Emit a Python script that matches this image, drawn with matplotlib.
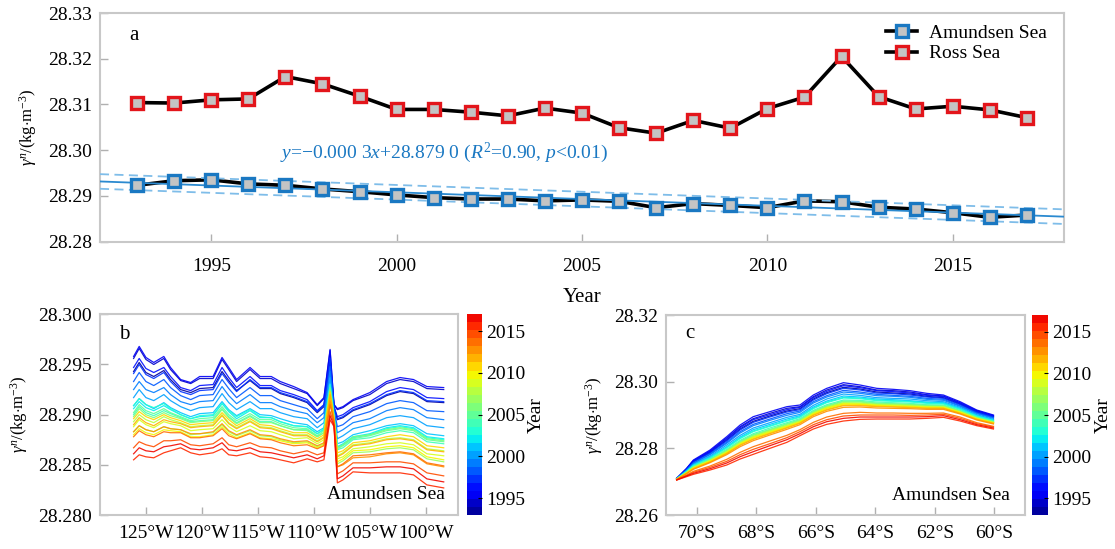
import numpy as np
import matplotlib
matplotlib.use("Agg")
import matplotlib.pyplot as plt
from matplotlib.colors import Normalize, ListedColormap
from matplotlib.cm import ScalarMappable
from matplotlib.lines import Line2D
from matplotlib.ticker import FuncFormatter

plt.rcParams['font.family'] = ['Liberation Serif', 'DejaVu Serif']
plt.rcParams['mathtext.fontset'] = 'custom'
plt.rcParams['mathtext.rm'] = 'Liberation Serif'
plt.rcParams['mathtext.it'] = 'Liberation Serif:italic'

# ---- panel a: yearly mean neutral density
YEARS = [1993, 1994, 1995, 1996, 1997, 1998, 1999, 2000, 2001, 2002, 2003, 2004, 2005,
         2006, 2007, 2008, 2009, 2010, 2011, 2012, 2013, 2014, 2015, 2016, 2017]
AMUNDSEN = [28.2923, 28.2933, 28.2935, 28.2926, 28.2923, 28.2915, 28.2909, 28.2902, 28.2896,
            28.2893, 28.2893, 28.2889, 28.2891, 28.2888, 28.2874, 28.2883, 28.2879, 28.2874,
            28.2889, 28.2887, 28.2875, 28.2871, 28.2863, 28.2853, 28.2858]
ROSS = [28.3104, 28.3103, 28.3110, 28.3112, 28.3161, 28.3145, 28.3118, 28.3089, 28.3089,
        28.3083, 28.3075, 28.3092, 28.3081, 28.3049, 28.3037, 28.3065, 28.3048, 28.3091,
        28.3116, 28.3205, 28.3117, 28.3090, 28.3096, 28.3088, 28.3071]
CI_HALF = 0.0016
EQUATION = r'$y$=−0.000 3$x$+28.879 0 ($R^2$=0.90, $p$<0.01)'

# ---- panel b: section along longitude, gamma_n - 28.28 in 1e-4 kg m^-3
LON_B = [-126.1, -125.6, -125.0, -124.3, -123.4, -122.8, -121.9, -121.0, -120.2, -119.0,
         -118.2, -117.6, -116.9, -115.7, -114.8, -113.8, -113.0, -111.8, -110.6, -109.7,
         -109.1, -108.55, -108.2, -107.9, -107.4, -106.5, -105.0, -103.5, -102.3, -101.1,
         -99.9, -98.4]
ROWS_B = [
    [143, 152, 142, 138, 144, 135, 125, 122, 126, 127, 143, 134, 124, 134, 126, 126, 121, 117, 112, 102, 108, 155, 107, 95, 97, 104, 110, 119, 123, 121, 113, 112],
    [156, 166, 155, 150, 156, 145, 134, 131, 136, 136, 155, 145, 133, 145, 136, 136, 131, 126, 121, 109, 116, 164, 110, 105, 107, 114, 120, 131, 135, 133, 126, 125],
    [158, 168, 157, 152, 158, 147, 135, 132, 138, 138, 157, 147, 135, 147, 138, 138, 133, 128, 122, 110, 117, 165, 110, 106, 108, 115, 122, 133, 137, 135, 128, 127],
    [147, 156, 146, 142, 147, 138, 127, 124, 129, 130, 147, 137, 127, 138, 129, 129, 124, 120, 115, 104, 110, 157, 108, 98, 100, 107, 113, 123, 127, 125, 117, 116],
    [141, 150, 140, 136, 142, 133, 123, 120, 124, 125, 141, 132, 123, 135, 127, 127, 122, 118, 113, 103, 109, 156, 108, 96, 98, 105, 111, 120, 124, 122, 114, 113],
    [133, 142, 133, 129, 135, 127, 119, 115, 119, 120, 135, 126, 117, 127, 119, 119, 114, 110, 106, 96, 102, 148, 105, 88, 90, 98, 103, 111, 114, 112, 104, 103],
    [125, 133, 125, 122, 127, 120, 113, 110, 113, 114, 128, 119, 111, 120, 112, 112, 108, 104, 101, 92, 97, 143, 103, 82, 85, 92, 96, 104, 107, 105, 97, 95],
    [117, 125, 117, 114, 120, 114, 108, 104, 107, 108, 121, 112, 105, 113, 106, 106, 102, 98, 96, 87, 92, 137, 101, 76, 79, 86, 90, 97, 99, 97, 89, 87],
    [109, 116, 110, 106, 112, 107, 102, 98, 101, 102, 113, 105, 99, 106, 100, 99, 96, 92, 90, 83, 87, 131, 99, 71, 73, 80, 84, 89, 91, 89, 81, 79],
    [106, 113, 107, 104, 109, 105, 100, 96, 98, 99, 111, 103, 96, 104, 97, 97, 93, 89, 88, 81, 85, 129, 99, 68, 71, 78, 81, 87, 89, 87, 78, 76],
    [109, 116, 110, 107, 111, 106, 100, 96, 99, 100, 111, 104, 98, 105, 98, 97, 93, 89, 88, 81, 86, 130, 99, 68, 70, 77, 80, 86, 88, 86, 77, 75],
    [100, 108, 102, 99, 104, 101, 97, 93, 94, 95, 106, 98, 92, 99, 93, 93, 89, 85, 85, 78, 82, 126, 98, 65, 67, 75, 77, 82, 84, 82, 73, 71],
    [102, 110, 104, 101, 106, 102, 98, 94, 96, 97, 108, 100, 94, 101, 95, 95, 91, 87, 86, 79, 84, 127, 98, 66, 69, 76, 79, 84, 86, 84, 75, 73],
    [98, 106, 100, 97, 102, 99, 96, 92, 93, 94, 105, 97, 91, 98, 92, 92, 89, 85, 84, 78, 82, 125, 98, 67, 70, 78, 80, 85, 87, 85, 76, 74],
    [83, 89, 85, 83, 88, 86, 85, 80, 81, 82, 90, 83, 79, 84, 79, 78, 75, 72, 73, 68, 71, 113, 94, 51, 54, 62, 63, 66, 67, 65, 56, 53],
    [93, 100, 95, 92, 98, 95, 92, 88, 89, 90, 100, 92, 87, 94, 88, 87, 84, 80, 80, 74, 78, 121, 96, 59, 62, 70, 72, 76, 77, 75, 66, 64],
    [88, 95, 90, 87, 93, 91, 89, 84, 85, 86, 95, 88, 83, 89, 84, 83, 80, 76, 77, 71, 75, 117, 95, 56, 58, 66, 68, 71, 72, 70, 61, 59],
    [80, 86, 82, 80, 85, 84, 83, 78, 78, 80, 88, 81, 77, 82, 77, 76, 74, 71, 72, 67, 70, 112, 94, 53, 56, 64, 65, 68, 69, 67, 58, 55],
    [96, 103, 98, 95, 100, 97, 94, 90, 91, 92, 102, 95, 89, 96, 90, 89, 86, 82, 82, 76, 80, 123, 97, 62, 64, 72, 74, 78, 80, 78, 69, 67],
    [90, 97, 92, 89, 95, 93, 91, 87, 88, 89, 99, 91, 86, 93, 87, 86, 83, 79, 79, 73, 77, 120, 96, 58, 61, 69, 71, 75, 76, 74, 65, 63],
    [83, 89, 85, 83, 88, 86, 85, 81, 81, 83, 91, 84, 80, 85, 80, 79, 76, 73, 74, 69, 72, 114, 94, 48, 50, 57, 58, 61, 62, 60, 51, 48],
    [78, 84, 80, 78, 83, 82, 82, 77, 77, 79, 86, 79, 76, 81, 76, 75, 72, 69, 70, 66, 69, 110, 93, 48, 51, 59, 60, 62, 63, 61, 52, 49],
    [67, 73, 70, 68, 74, 74, 75, 70, 69, 71, 77, 70, 68, 72, 68, 67, 64, 61, 64, 60, 62, 103, 91, 41, 44, 52, 52, 53, 53, 51, 42, 39],
    [55, 60, 58, 57, 62, 64, 67, 62, 60, 62, 66, 60, 59, 62, 58, 57, 55, 52, 56, 53, 55, 95, 88, 32, 35, 43, 42, 42, 42, 40, 30, 27],
    [61, 67, 64, 63, 68, 69, 71, 66, 65, 67, 72, 65, 64, 67, 63, 62, 60, 57, 60, 56, 59, 99, 89, 36, 39, 47, 47, 48, 48, 46, 36, 33],
]

# ---- panel c: section along latitude, gamma_n - 28.26 in 1e-4 kg m^-3
LAT_C = [-70.67, -70.34, -70.11, -69.55, -68.99, -68.54, -68.1, -67.54, -66.97, -66.53, -66.08,
         -65.63, -65.07, -64.51, -63.95, -63.39, -62.83, -62.27, -61.71, -61.15, -60.59, -60.03]
ROWS_C = [
    [109, 137, 160, 188, 225, 258, 281, 297, 312, 319, 348, 367, 383, 378, 369, 366, 363, 356, 352, 333, 309, 295],
    [110, 139, 163, 192, 231, 265, 289, 305, 320, 325, 355, 375, 391, 385, 375, 373, 369, 361, 357, 337, 313, 298],
    [110, 140, 165, 195, 235, 270, 295, 310, 325, 330, 360, 380, 397, 390, 380, 377, 373, 365, 360, 340, 315, 300],
    [110, 138, 162, 190, 228, 262, 286, 301, 316, 323, 352, 371, 388, 382, 373, 370, 366, 359, 355, 335, 311, 297],
    [109, 136, 159, 186, 222, 255, 278, 294, 309, 316, 345, 364, 380, 375, 366, 364, 360, 354, 350, 331, 308, 294],
    [109, 135, 156, 183, 218, 250, 272, 288, 304, 312, 340, 358, 374, 369, 362, 359, 356, 350, 347, 328, 306, 292],
    [109, 134, 155, 181, 215, 246, 268, 284, 299, 308, 336, 354, 369, 365, 358, 356, 353, 347, 344, 326, 304, 290],
    [109, 133, 152, 177, 210, 239, 261, 277, 293, 302, 329, 348, 363, 359, 352, 350, 348, 343, 340, 323, 301, 287],
    [108, 131, 150, 174, 205, 234, 256, 272, 288, 298, 324, 342, 357, 354, 348, 346, 343, 339, 337, 320, 299, 285],
    [108, 131, 149, 172, 203, 231, 252, 268, 284, 295, 321, 339, 353, 351, 345, 343, 341, 337, 335, 318, 297, 284],
    [108, 130, 148, 171, 201, 229, 250, 266, 282, 293, 319, 337, 351, 349, 343, 341, 339, 335, 333, 317, 296, 283],
    [108, 129, 146, 168, 197, 224, 244, 261, 277, 289, 314, 331, 345, 344, 339, 337, 335, 331, 330, 314, 294, 281],
    [108, 128, 144, 166, 194, 221, 241, 257, 274, 286, 311, 328, 342, 341, 336, 334, 332, 329, 328, 312, 292, 280],
    [108, 128, 144, 165, 193, 219, 239, 255, 272, 284, 309, 326, 340, 339, 334, 333, 331, 328, 327, 311, 292, 279],
    [107, 127, 143, 164, 191, 217, 236, 253, 269, 282, 307, 324, 337, 336, 332, 331, 329, 326, 325, 310, 291, 278],
    [107, 127, 142, 163, 190, 216, 235, 252, 268, 281, 306, 323, 336, 335, 331, 330, 328, 325, 325, 309, 290, 278],
    [107, 126, 141, 162, 188, 214, 233, 250, 266, 279, 304, 321, 334, 333, 329, 328, 326, 324, 323, 308, 289, 277],
    [107, 126, 141, 161, 187, 213, 232, 248, 265, 279, 303, 320, 333, 332, 329, 327, 325, 323, 322, 308, 289, 276],
    [107, 125, 140, 160, 186, 211, 229, 246, 263, 277, 301, 317, 330, 330, 327, 325, 324, 321, 321, 306, 288, 276],
    [107, 125, 139, 159, 184, 209, 227, 244, 261, 275, 299, 315, 328, 328, 325, 324, 322, 320, 320, 305, 287, 275],
    [107, 124, 137, 157, 181, 205, 223, 240, 257, 271, 295, 311, 323, 324, 321, 320, 319, 317, 317, 303, 285, 273],
    [106, 120, 131, 147, 167, 188, 205, 222, 239, 256, 278, 294, 305, 308, 306, 306, 305, 305, 306, 294, 277, 266],
    [106, 118, 128, 143, 161, 181, 197, 214, 232, 250, 271, 286, 297, 300, 300, 300, 299, 300, 302, 290, 274, 264],
    [105, 115, 122, 135, 150, 168, 182, 200, 218, 238, 258, 272, 282, 287, 288, 288, 288, 290, 293, 282, 268, 258],
    [105, 117, 125, 139, 156, 175, 190, 208, 226, 244, 265, 280, 290, 294, 294, 294, 294, 295, 298, 286, 271, 261],
]

BLUE = '#1a78c2'
RED = '#e3151b'
FACE = '#c4c4c4'
SPINE = '#c8c8c8'
YLABEL = r'$\gamma^n$/(kg$\cdot$m$^{-3}$)'


def style_axes(ax):
    for s in ax.spines.values():
        s.set_color(SPINE)
        s.set_linewidth(1.5)
    ax.tick_params(direction='in', length=6, width=1, color='#b0b0b0',
                   labelsize=14, pad=6)


fig = plt.figure(figsize=(11.15, 5.49), dpi=100)

# ---------------- panel a
ax = fig.add_axes([0.0897, 0.5601, 0.8646, 0.4162])
style_axes(ax)
ax.tick_params(axis='x', pad=12)
ax.set_xlim(1992, 2018)
ax.set_ylim(28.28, 28.33)
ax.set_xticks([1995, 2000, 2005, 2010, 2015])
ax.set_yticks([28.28, 28.29, 28.30, 28.31, 28.32, 28.33])
ax.yaxis.set_major_formatter(FuncFormatter(lambda v, p: f"{v:.2f}"))

coef = np.polyfit(YEARS, AMUNDSEN, 1)
xs = np.array([1992, 2018])
fit = np.polyval(coef, xs)
ax.plot(xs, fit, color='#2b8ad0', lw=1.3, zorder=3)
ax.plot(xs, fit + CI_HALF, color='#7fbde9', lw=1.3, ls=(0, (5, 3)), zorder=3)
ax.plot(xs, fit - CI_HALF, color='#7fbde9', lw=1.3, ls=(0, (5, 3)), zorder=3)

mk = dict(marker='s', ms=9, mew=2.4, mfc=FACE, ls='none', zorder=4)
ax.plot(YEARS, AMUNDSEN, color='k', lw=2.6, zorder=2)
ax.plot(YEARS, AMUNDSEN, mec=BLUE, **mk)
ax.plot(YEARS, ROSS, color='k', lw=2.6, zorder=2)
ax.plot(YEARS, ROSS, mec=RED, **mk)

handles = [Line2D([], [], color='k', lw=2.6, marker='s', ms=9, mew=2.4, mfc=FACE, mec=BLUE),
           Line2D([], [], color='k', lw=2.6, marker='s', ms=9, mew=2.4, mfc=FACE, mec=RED)]
ax.legend(handles, ['Amundsen Sea', 'Ross Sea'], loc='upper right',
          bbox_to_anchor=(0.99, 0.985), frameon=False, fontsize=14,
          handlelength=1.6, handletextpad=0.6, labelspacing=0.15, borderaxespad=0)

ax.text(1996.85, 28.2994, EQUATION, color=BLUE, fontsize=14, ha='left', va='center')
ax.text(0.03, 0.9, 'a', transform=ax.transAxes, fontsize=15, va='center')
ax.set_xlabel('Year', fontsize=15, labelpad=9)
ax.set_ylabel(YLABEL, fontsize=12, labelpad=6)

# jet without its darkest red end, in 25 yearly steps
norm = Normalize(1993, 2017)
cmap = ListedColormap(plt.cm.jet(np.linspace(0.03, 0.9, 25)))

# ---------------- panel b
axb = fig.add_axes([0.0897, 0.0619, 0.3213, 0.3656])
style_axes(axb)
axb.tick_params(axis='x', pad=7)
for yr, row in zip(YEARS, ROWS_B):
    axb.plot(LON_B, 28.28 + np.array(row) / 1e4, color=cmap(norm(yr)), lw=0.9, alpha=0.9)
axb.set_xlim(-129.1, -97.1)
axb.set_ylim(28.28, 28.30)
axb.set_xticks([-125, -120, -115, -110, -105, -100])
axb.xaxis.set_major_formatter(FuncFormatter(lambda v, p: f"{abs(v):.0f}°W"))
axb.set_yticks([28.28, 28.285, 28.29, 28.295, 28.30])
axb.yaxis.set_major_formatter(FuncFormatter(lambda v, p: f"{v:.3f}"))
axb.text(0.053, 0.9, 'b', transform=axb.transAxes, fontsize=15, va='center')
axb.text(0.964, 0.1, 'Amundsen Sea', transform=axb.transAxes, fontsize=14,
         ha='right', va='center')
axb.set_ylabel(YLABEL, fontsize=12, labelpad=6)

cax_b = fig.add_axes([0.4186, 0.0619, 0.0135, 0.3656])
cb = fig.colorbar(ScalarMappable(norm=norm, cmap=cmap), cax=cax_b)
cb.set_ticks([1995, 2000, 2005, 2010, 2015])
cb.outline.set_visible(False)
cb.ax.tick_params(direction='in', length=3, color='k', labelsize=14, pad=3)
cb.set_label('Year', fontsize=14, labelpad=2)

# ---------------- panel c
axc = fig.add_axes([0.5973, 0.0619, 0.3220, 0.3643])
style_axes(axc)
axc.tick_params(axis='x', pad=7)
for yr, row in zip(YEARS, ROWS_C):
    axc.plot(LAT_C, 28.26 + np.array(row) / 1e4, color=cmap(norm(yr)), lw=0.9, alpha=0.9)
axc.set_xlim(-71.03, -58.97)
axc.set_ylim(28.26, 28.32)
axc.set_xticks([-70, -68, -66, -64, -62, -60])
axc.xaxis.set_major_formatter(FuncFormatter(lambda v, p: f"{abs(v):.0f}°S"))
axc.set_yticks([28.26, 28.28, 28.30, 28.32])
axc.yaxis.set_major_formatter(FuncFormatter(lambda v, p: f"{v:.2f}"))
axc.text(0.053, 0.91, 'c', transform=axc.transAxes, fontsize=15, va='center')
axc.text(0.958, 0.1, 'Amundsen Sea', transform=axc.transAxes, fontsize=14,
         ha='right', va='center')
axc.set_ylabel(YLABEL, fontsize=12, labelpad=6)

cax_c = fig.add_axes([0.9258, 0.0619, 0.0144, 0.3643])
cb2 = fig.colorbar(ScalarMappable(norm=norm, cmap=cmap), cax=cax_c)
cb2.set_ticks([1995, 2000, 2005, 2010, 2015])
cb2.outline.set_visible(False)
cb2.ax.tick_params(direction='in', length=3, color='k', labelsize=14, pad=3)
cb2.set_label('Year', fontsize=14, labelpad=2)

fig.savefig('out.png', dpi=100)
